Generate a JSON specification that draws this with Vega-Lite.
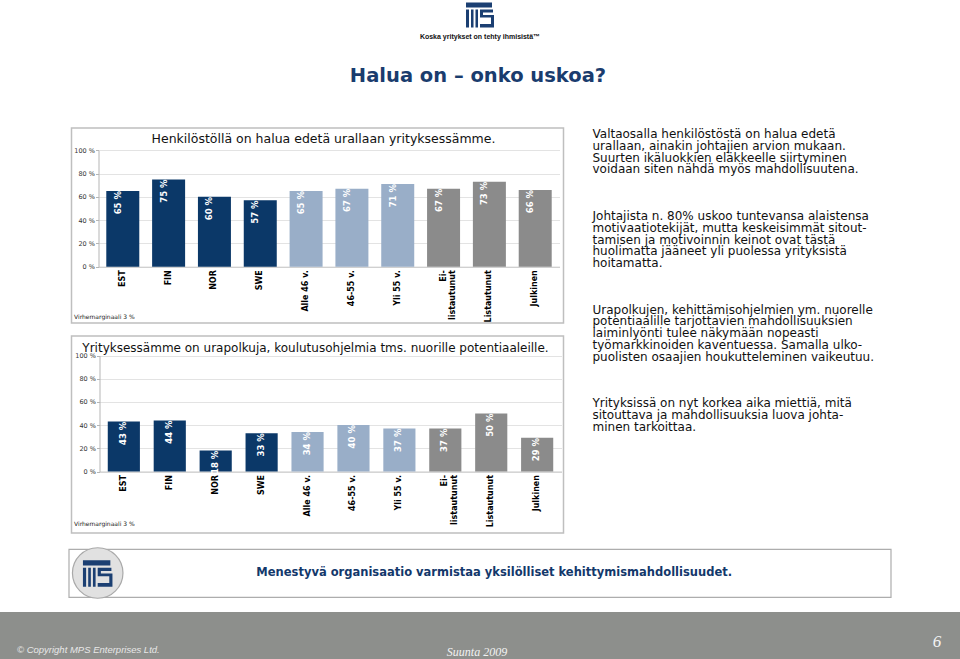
{
  "$schema": "https://vega.github.io/schema/vega-lite/v6.json",
  "background": "white",
  "padding": 0,
  "spacing": 10,
  "center": true,
  "datasets": {
    "header": [
      {"item": "logo"},
      {"item": "tagline", "text": "Koska yritykset on tehty ihmisistä™"},
      {"item": "title", "text": "Halua on – onko uskoa?"}
    ],
    "survey1": [
      {"category": "EST", "group": "Maa", "value": 65, "label": "65 %"},
      {"category": "FIN", "group": "Maa", "value": 75, "label": "75 %"},
      {"category": "NOR", "group": "Maa", "value": 60, "label": "60 %"},
      {"category": "SWE", "group": "Maa", "value": 57, "label": "57 %"},
      {"category": "Alle 46 v.", "group": "Ikä", "value": 65, "label": "65 %"},
      {"category": "46-55 v.", "group": "Ikä", "value": 67, "label": "67 %"},
      {"category": "Yli 55 v.", "group": "Ikä", "value": 71, "label": "71 %"},
      {"category": "Ei-listautunut", "group": "Listautuminen", "value": 67, "label": "67 %"},
      {"category": "Listautunut", "group": "Listautuminen", "value": 73, "label": "73 %"},
      {"category": "Julkinen", "group": "Listautuminen", "value": 66, "label": "66 %"}
    ],
    "survey2": [
      {"category": "EST", "group": "Maa", "value": 43, "label": "43 %"},
      {"category": "FIN", "group": "Maa", "value": 44, "label": "44 %"},
      {"category": "NOR", "group": "Maa", "value": 18, "label": "18 %"},
      {"category": "SWE", "group": "Maa", "value": 33, "label": "33 %"},
      {"category": "Alle 46 v.", "group": "Ikä", "value": 34, "label": "34 %"},
      {"category": "46-55 v.", "group": "Ikä", "value": 40, "label": "40 %"},
      {"category": "Yli 55 v.", "group": "Ikä", "value": 37, "label": "37 %"},
      {"category": "Ei-listautunut", "group": "Listautuminen", "value": 37, "label": "37 %"},
      {"category": "Listautunut", "group": "Listautuminen", "value": 50, "label": "50 %"},
      {"category": "Julkinen", "group": "Listautuminen", "value": 29, "label": "29 %"}
    ],
    "notes": [
      {"line": 0, "text": "Valtaosalla henkilöstöstä on halua edetä"},
      {"line": 1, "text": "urallaan, ainakin johtajien arvion mukaan."},
      {"line": 2, "text": "Suurten ikäluokkien eläkkeelle siirtyminen"},
      {"line": 3, "text": "voidaan siten nähdä myös mahdollisuutena."},
      {"line": 7, "text": "Johtajista n. 80% uskoo tuntevansa alaistensa"},
      {"line": 8, "text": "motivaatiotekijät, mutta keskeisimmät sitout-"},
      {"line": 9, "text": "tamisen ja motivoinnin keinot ovat tästä"},
      {"line": 10, "text": "huolimatta jääneet yli puolessa yrityksistä"},
      {"line": 11, "text": "hoitamatta."},
      {"line": 15, "text": "Urapolkujen, kehittämisohjelmien ym. nuorelle"},
      {"line": 16, "text": "potentiaalille tarjottavien mahdollisuuksien"},
      {"line": 17, "text": "laiminlyönti tulee näkymään nopeasti"},
      {"line": 18, "text": "työmarkkinoiden kaventuessa. Samalla ulko-"},
      {"line": 19, "text": "puolisten osaajien houkutteleminen vaikeutuu."},
      {"line": 23, "text": "Yrityksissä on nyt korkea aika miettiä, mitä"},
      {"line": 24, "text": "sitouttava ja mahdollisuuksia luova johta-"},
      {"line": 25, "text": "minen tarkoittaa."}
    ],
    "footer": [
      {"item": "logo"},
      {"item": "tagline", "text": "Menestyvä organisaatio varmistaa yksilölliset kehittymismahdollisuudet."}
    ],
    "band": [
      {"item": "copyright", "text": "© Copyright MPS Enterprises Ltd."},
      {"item": "suunta", "text": "Suunta 2009"},
      {"item": "page", "text": "6"}
    ]
  },
  "vconcat": [
    {
      "width": 960,
      "height": 117,
      "data": {"name": "header"},
      "encoding": {
        "y": {"field": "item", "type": "nominal", "scale": {"type": "point", "domain": ["logo", "tagline", "title"], "range": [14.5, 76], "padding": 0}, "axis": null}
      },
      "layer": [
        {
          "transform": [{"filter": "datum.item == 'logo'"}],
          "mark": {"type": "point", "shape": "M-0.933,-0.8H0.8V-0.467H-0.933Z M-0.933,-0.333H-0.733V0.867H-0.933Z M-0.6,-0.333H-0.433V0.867H-0.6Z M-0.3,-0.333H-0.133V0.867H-0.3Z M0,-0.333H0.867V-0.133H0Z M0,-0.333H0.2V0.2H0Z M0,0.033H0.933V0.2H0Z M0.733,0.033H0.933V0.867H0.733Z M0,0.633H0.933V0.867H0Z", "size": 900, "filled": true, "color": "#1b3f72", "opacity": 1},
          "encoding": {}
        },
        {
          "transform": [{"filter": "datum.item == 'tagline'"}],
          "mark": {"type": "text", "font": "Liberation Sans", "fontWeight": "bold", "fontSize": 7, "color": "#111111", "dy": -8},
          "encoding": {"text": {"field": "text"}}
        },
        {
          "transform": [{"filter": "datum.item == 'title'"}],
          "mark": {"type": "text", "font": "DejaVu Sans", "fontWeight": "bold", "fontSize": 19.5, "color": "#1a3c6e", "dx": -2},
          "encoding": {"text": {"field": "text"}}
        }
      ]
    },
    {
      "spacing": 28,
      "hconcat": [
        {
          "spacing": 13,
          "bounds": "flush",
          "vconcat": [
            {
              "width": 492,
              "height": 195,
              "view": {"stroke": "#bfbfbf", "strokeWidth": 1.5},
              "title": {"text": "Henkilöstöllä on halua edetä urallaan yrityksessämme.", "frame": "group", "anchor": "middle", "offset": 0, "baseline": "middle", "dy": 23, "dx": 6, "font": "DejaVu Sans", "fontSize": 12.5, "fontWeight": "normal", "color": "#111111"},
              "data": {"name": "survey1"},
              "encoding": {
                "x": {
                  "field": "category", "type": "nominal", "sort": null,
                  "scale": {"range": [27, 488], "paddingInner": 0.28, "paddingOuter": 0.17},
                  "axis": {
                    "title": "Virhemarginaali 3 %", "titleX": 2, "titleY": 49.3, "titleAlign": "left", "titleAnchor": "start", "titleBaseline": "middle",
                    "titleFont": "DejaVu Sans", "titleFontSize": 6, "titleFontWeight": "normal", "titleColor": "#222222",
                    "labelAngle": 270, "labelAlign": "right", "labelBaseline": "middle", "labelFont": "DejaVu Sans", "labelFontWeight": "bold",
                    "labelFontSize": 8, "labelColor": "#000000", "labelPadding": 3, "labelLineHeight": 9.5,
                    "labelExpr": "datum.label == 'Ei-listautunut' ? ['Ei-', 'listautunut'] : datum.label",
                    "ticks": false, "domainColor": "#c8c8c8", "offset": -56.3, "labelOverlap": false
                  }
                },
                "y": {
                  "field": "value", "type": "quantitative",
                  "scale": {"domain": [0, 100], "range": [138.7, 22.3], "nice": false},
                  "axis": {
                    "title": null, "values": [0, 20, 40, 60, 80, 100], "labelExpr": "datum.value + ' %'",
                    "labelFont": "DejaVu Sans", "labelFontSize": 6.5, "labelColor": "#333333", "labelPadding": 1,
                    "tickSize": 3, "tickColor": "#b5b5b5", "domainColor": "#b5b5b5", "grid": true, "gridColor": "#e3e3e3", "offset": -27
                  }
                }
              },
              "layer": [
                {
                  "mark": {"type": "bar"},
                  "encoding": {
                    "color": {"field": "group", "type": "nominal", "scale": {"domain": ["Maa", "Ikä", "Listautuminen"], "range": ["#0b3868", "#99aec8", "#8b8b8b"]}, "legend": null}
                  }
                },
                {
                  "mark": {"type": "text", "angle": 270, "align": "right", "baseline": "middle", "dy": -5, "font": "DejaVu Sans", "fontWeight": "bold", "fontSize": 8.5, "color": "#ffffff"},
                  "encoding": {"text": {"field": "label"}}
                }
              ]
            },
            {
              "width": 492,
              "height": 197,
              "view": {"stroke": "#bfbfbf", "strokeWidth": 1.5},
              "title": {"text": "Yrityksessämme on urapolkuja, koulutusohjelmia tms. nuorille potentiaaleille.", "frame": "group", "anchor": "middle", "offset": 0, "baseline": "middle", "dy": 24, "dx": -2, "font": "DejaVu Sans", "fontSize": 12, "fontWeight": "normal", "color": "#111111"},
              "data": {"name": "survey2"},
              "encoding": {
                "x": {
                  "field": "category", "type": "nominal", "sort": null,
                  "scale": {"range": [28, 490], "paddingInner": 0.3, "paddingOuter": 0.18},
                  "axis": {
                    "title": "Virhemarginaali 3 %", "titleX": 2, "titleY": 52, "titleAlign": "left", "titleAnchor": "start", "titleBaseline": "middle",
                    "titleFont": "DejaVu Sans", "titleFontSize": 6, "titleFontWeight": "normal", "titleColor": "#222222",
                    "labelAngle": 270, "labelAlign": "right", "labelBaseline": "middle", "labelFont": "DejaVu Sans", "labelFontWeight": "bold",
                    "labelFontSize": 8, "labelColor": "#000000", "labelPadding": 3, "labelLineHeight": 9.5,
                    "labelExpr": "datum.label == 'Ei-listautunut' ? ['Ei-', 'listautunut'] : datum.label",
                    "ticks": false, "domainColor": "#c8c8c8", "offset": -61.5, "labelOverlap": false
                  }
                },
                "y": {
                  "field": "value", "type": "quantitative",
                  "scale": {"domain": [0, 100], "range": [135.5, 19.5], "nice": false},
                  "axis": {
                    "title": null, "values": [0, 20, 40, 60, 80, 100], "labelExpr": "datum.value + ' %'",
                    "labelFont": "DejaVu Sans", "labelFontSize": 6.5, "labelColor": "#333333", "labelPadding": 1,
                    "tickSize": 3, "tickColor": "#b5b5b5", "domainColor": "#b5b5b5", "grid": true, "gridColor": "#e3e3e3", "offset": -28
                  }
                }
              },
              "layer": [
                {
                  "mark": {"type": "bar"},
                  "encoding": {
                    "color": {"field": "group", "type": "nominal", "scale": {"domain": ["Maa", "Ikä", "Listautuminen"], "range": ["#0b3868", "#99aec8", "#8b8b8b"]}, "legend": null}
                  }
                },
                {
                  "mark": {"type": "text", "angle": 270, "align": "right", "baseline": "middle", "dy": -1, "font": "DejaVu Sans", "fontWeight": "bold", "fontSize": 8.5, "color": "#ffffff"},
                  "encoding": {"text": {"field": "label"}}
                }
              ]
            }
          ]
        },
        {
          "width": 296,
          "height": 405,
          "data": {"name": "notes"},
          "mark": {"type": "text", "align": "left", "baseline": "middle", "font": "DejaVu Sans", "fontSize": 12, "color": "#111111"},
          "encoding": {
            "x": {"datum": 0, "type": "quantitative", "scale": {"domain": [0, 1], "nice": false, "zero": false}, "axis": null},
            "y": {"field": "line", "type": "quantitative", "scale": {"domain": [0, 25], "range": [6.3, 298.7], "nice": false, "zero": false}, "axis": null},
            "text": {"field": "text"}
          }
        }
      ]
    },
    {
      "width": 822,
      "height": 48,
      "view": {"stroke": "#adadad", "strokeWidth": 1.2},
      "data": {"name": "footer"},
      "encoding": {
        "x": {"field": "item", "type": "nominal", "scale": {"type": "point", "domain": ["logo", "tagline"], "range": [29, 425.5], "padding": 0}, "axis": null}
      },
      "layer": [
        {
          "transform": [{"filter": "datum.item == 'logo'"}],
          "mark": {"type": "point", "shape": "circle", "size": 2552, "filled": true, "fill": "#e1e1e1", "stroke": "#a9a9a9", "strokeWidth": 1.2, "opacity": 1}
        },
        {
          "transform": [{"filter": "datum.item == 'logo'"}],
          "mark": {"type": "point", "shape": "M-0.933,-0.8H0.8V-0.467H-0.933Z M-0.933,-0.333H-0.733V0.867H-0.933Z M-0.6,-0.333H-0.433V0.867H-0.6Z M-0.3,-0.333H-0.133V0.867H-0.3Z M0,-0.333H0.867V-0.133H0Z M0,-0.333H0.2V0.2H0Z M0,0.033H0.933V0.2H0Z M0.733,0.033H0.933V0.867H0.733Z M0,0.633H0.933V0.867H0Z", "size": 1000, "filled": true, "color": "#1b3f72", "opacity": 1}
        },
        {
          "transform": [{"filter": "datum.item == 'tagline'"}],
          "mark": {"type": "text", "font": "DejaVu Sans", "fontWeight": "bold", "fontSize": 11.5, "color": "#13386b"},
          "encoding": {"text": {"field": "text"}}
        }
      ]
    },
    {
      "width": 960,
      "height": 47,
      "view": {"fill": "#8d8f8c", "stroke": null},
      "data": {"name": "band"},
      "encoding": {
        "x": {"field": "item", "type": "nominal", "scale": {"type": "point", "domain": ["copyright", "suunta", "page"], "range": [17, 937], "padding": 0}, "axis": null}
      },
      "layer": [
        {
          "transform": [{"filter": "datum.item == 'copyright'"}],
          "mark": {"type": "text", "align": "left", "font": "Liberation Sans", "fontStyle": "italic", "fontSize": 9.5, "color": "#e8e8e8", "dy": 14},
          "encoding": {"text": {"field": "text"}}
        },
        {
          "transform": [{"filter": "datum.item == 'suunta'"}],
          "mark": {"type": "text", "align": "center", "font": "Liberation Serif", "fontStyle": "italic", "fontSize": 12, "color": "#f2f2f2", "dy": 16},
          "encoding": {"text": {"field": "text"}}
        },
        {
          "transform": [{"filter": "datum.item == 'page'"}],
          "mark": {"type": "text", "align": "center", "font": "Liberation Serif", "fontStyle": "italic", "fontSize": 17, "color": "#f4f4f4", "dy": 6},
          "encoding": {"text": {"field": "text"}}
        }
      ]
    }
  ],
  "config": {
    "view": {"stroke": null},
    "font": "DejaVu Sans"
  }
}
